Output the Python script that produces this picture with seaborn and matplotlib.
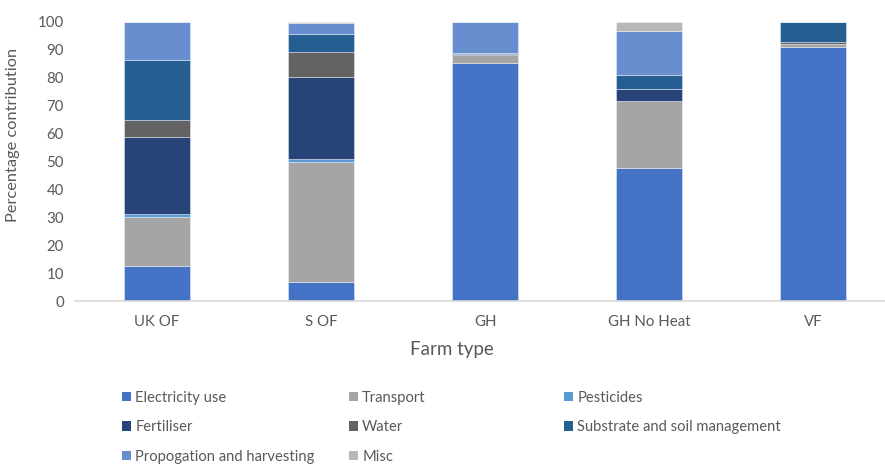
import matplotlib
matplotlib.use("Agg")
import matplotlib.pyplot as plt
import seaborn as sns
import numpy as np

# Farm types and the contribution (%) of each source
farm_types = ["UK OF", "S OF", "GH", "GH No Heat", "VF"]
electricity = [12.6, 6.9, 85.1, 47.7, 90.9]
transport = [17.4, 42.9, 2.9, 23.9, 1.0]
pesticides = [1.2, 0.9, 0.0, 0.0, 0.0]
fertiliser = [27.6, 29.6, 0.3, 4.2, 0.0]
water = [6.0, 8.7, 0.0, 0.0, 1.0]
substrate = [21.6, 6.7, 0.6, 5.2, 7.1]
propagation = [13.6, 3.9, 11.1, 15.8, 0.0]
misc = [0.0, 0.4, 0.0, 3.2, 0.0]

source_names = ["Electricity use", "Transport", "Pesticides", "Fertiliser", "Water",
                "Substrate and soil management", "Propogation and harvesting", "Misc"]
source_values = [electricity, transport, pesticides, fertiliser, water,
                 substrate, propagation, misc]
source_colors = ["#4472C4", "#A5A5A5", "#5B9BD5", "#264478", "#636363",
                 "#255E91", "#698ED0", "#B7B7B7"]

sns.set_theme(style="white")
plt.rcParams["font.family"] = ["Lato", "DejaVu Sans"]
text_color = "#595959"

fig = plt.figure(figsize=(8.85, 4.65), dpi=100)
ax = fig.add_axes([75 / 885, 1 - 301 / 465, 810 / 885, (301 - 21.7) / 465])

bottom = np.zeros(len(farm_types))
handles = []
for name, vals, col in zip(source_names, source_values, source_colors):
    vals = np.asarray(vals, dtype=float)
    sns.barplot(x=farm_types, y=vals, bottom=bottom, color=col, width=0.4,
                edgecolor=(1, 1, 1, 0.45), linewidth=0.6, ax=ax, saturation=1)
    handles.append(plt.Rectangle((0, 0), 1, 1, facecolor=col, edgecolor="none", label=name))
    bottom += vals

ax.set_ylim(0, 100)
ax.set_xlim(-0.5, (885 - 157) / 164 - 0.001)
ax.set_yticks(range(0, 101, 10))
ax.tick_params(axis="both", length=0, labelsize=10.8, colors=text_color)
ax.tick_params(axis="y", pad=8)
ax.tick_params(axis="x", pad=10)
for side in ["top", "right", "left"]:
    ax.spines[side].set_visible(False)
ax.spines["bottom"].set_color("#D9D9D9")
ax.spines["bottom"].set_linewidth(1.2)

ax.set_ylabel("Percentage contribution", fontsize=11.8, color=text_color)
ax.yaxis.set_label_coords(-0.068, 0.594)
ax.set_xlabel("Farm type", fontsize=13.5, color=text_color)
ax.xaxis.set_label_coords(0.465, -0.145)

# Legend laid out in three columns
columns = [[0, 3, 6], [1, 4, 7], [2, 5]]
col_x = [116 / 885, 343 / 885, 558 / 885]
for cx, idx in zip(col_x, columns):
    leg = fig.legend(handles=[handles[i] for i in idx], loc="upper left",
                     bbox_to_anchor=(cx, 1 - 385 / 465), frameon=False,
                     fontsize=10.6, handlelength=0.6, handleheight=0.6,
                     handletextpad=0.3, labelspacing=1.05, borderaxespad=0)
    for t in leg.get_texts():
        t.set_color(text_color)

fig.savefig("out.png", dpi=100)
